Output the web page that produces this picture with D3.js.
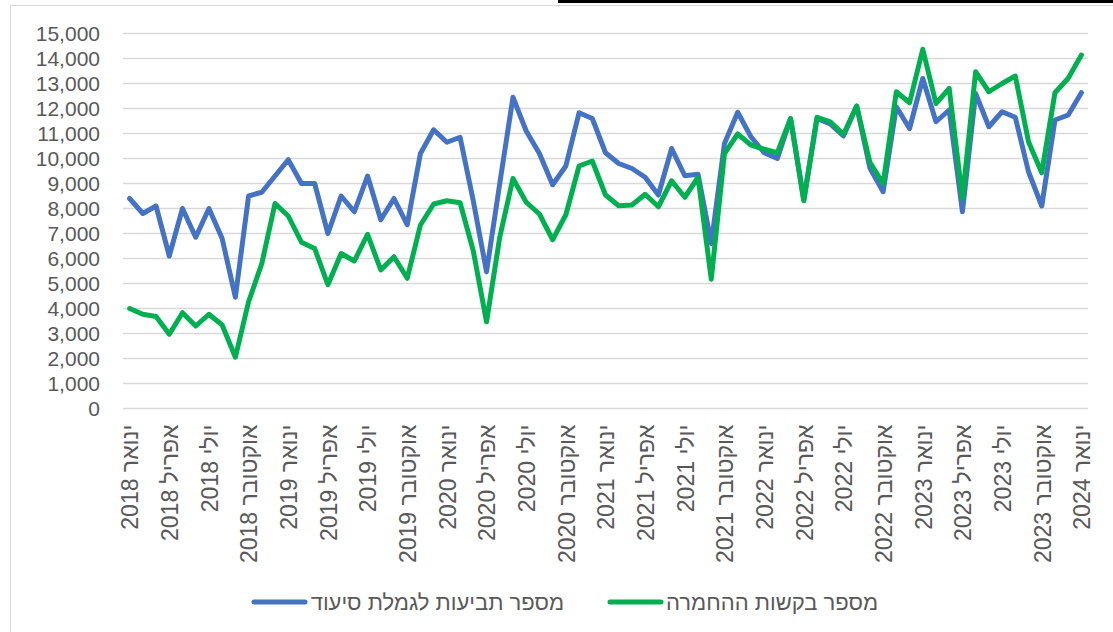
<!DOCTYPE html>
<html>
<head>
<meta charset="utf-8">
<script src="https://cdn.jsdelivr.net/npm/d3@7"></script>
<style>
body{margin:0;background:#fff;}
text{font-family:"Liberation Sans",Arial,sans-serif;}
</style>
</head>
<body>
<svg id="svg" width="1113" height="632"></svg>
<script>
var monthNames=["ינואר","פברואר","מרץ","אפריל","מאי","יוני","יולי","אוגוסט","ספטמבר","אוקטובר","נובמבר","דצמבר"];
var years=[2018,2019,2020,2021,2022,2023,2024];
var seriesNames=["מספר תביעות לגמלת סיעוד","מספר בקשות ההחמרה"];
var seriesColors=["#4472C4","#00B050"];

// monthly values, Jan 2018 .. Jan 2024
var claims=[8400,7800,8100,6100,8000,6850,8000,6800,4450,8500,8650,9300,
            9950,9000,9000,7000,8500,7870,9300,7550,8400,7350,10200,11150,
            10650,10850,8300,5470,9000,12450,11100,10200,8950,9700,11830,11600,
            10230,9800,9600,9250,8540,10400,9310,9370,6600,10600,11850,10870,
            10230,10000,11600,8350,11600,11380,10900,12100,9620,8670,12070,11200,
            13200,11470,11940,7870,12600,11270,11870,11650,9470,8100,11540,11740,
            12630];
var worsening=[4000,3770,3680,2970,3830,3300,3770,3340,2050,4270,5800,8200,
               7700,6650,6400,4950,6200,5900,6970,5540,6070,5210,7340,8180,
               8310,8230,6300,3470,6850,9200,8250,7780,6750,7750,9700,9900,
               8540,8110,8140,8570,8070,9110,8450,9250,5170,10200,10980,10540,
               10370,10230,11600,8310,11650,11470,10970,12100,9850,9000,12670,12230,
               14370,12200,12800,8400,13470,12670,13000,13300,10670,9430,12630,13210,
               14140];
var yTicks=d3.range(0,15001,1000);

var categories=[];
years.forEach(function(yr){
    monthNames.forEach(function(m){ categories.push(m+" "+yr); });
});
categories=categories.slice(0,claims.length);

var svg=d3.select("#svg");

// frame
svg.append("rect")
    .attr("x",10.5).attr("y",5.5)
    .attr("width",1120).attr("height",640)
    .attr("fill","none").attr("stroke","#d9d9d9").attr("stroke-width",1);
svg.append("rect")
    .attr("x",558).attr("y",0).attr("width",555).attr("height",3)
    .attr("fill","#000");

var x=d3.scalePoint().domain(categories).range([123,1088]).padding(0.5);
var y=d3.scaleLinear().domain([0,15000]).range([408.5,33.5]);

// gridlines
svg.append("g").selectAll("line")
    .data(yTicks).enter().append("line")
        .attr("x1",123).attr("x2",1088)
        .attr("y1",d=>y(d)).attr("y2",d=>y(d))
        .attr("stroke","#d9d9d9").attr("stroke-width",1.5);

// y axis
var yAxis=svg.append("g")
        .attr("transform","translate(100,0)")
    .call(d3.axisLeft(y).tickValues(yTicks).tickSize(0).tickPadding(0).tickFormat(d3.format(",")));
yAxis.select(".domain").remove();
yAxis.selectAll("text")
    .attr("fill","#595959")
    .style("font-size","21px");

// x axis
var xAxis=svg.append("g")
        .attr("transform","translate(0,"+y(0)+")")
    .call(d3.axisBottom(x).tickValues(categories.filter((d,i)=>i%3===0)).tickSize(0));
xAxis.select(".domain").remove();
xAxis.selectAll("text")
    .attr("transform","rotate(-90)")
    .attr("x",-16).attr("y",0).attr("dy","0.36em")
    .attr("text-anchor","end")
    .attr("fill","#595959")
    .style("font-size","23px");

// lines
var line=d3.line()
    .x((d,i)=>x(categories[i]))
    .y(d=>y(d));

[claims,worsening].forEach(function(s,k){
    svg.append("path")
        .datum(s)
        .attr("d",line)
        .attr("fill","none")
        .attr("stroke",seriesColors[k])
        .attr("stroke-width",5)
        .attr("stroke-linejoin","round")
        .attr("stroke-linecap","round");
});

// legend
var legendItems=[{x1:254,x2:305,tx:564},{x1:610,x2:661,tx:878}];
var legend=svg.append("g");
legendItems.forEach(function(l,k){
    legend.append("line")
        .attr("x1",l.x1).attr("x2",l.x2)
        .attr("y1",602).attr("y2",602)
        .attr("stroke",seriesColors[k]).attr("stroke-width",5)
        .attr("stroke-linecap","round");
    legend.append("text")
        .attr("x",l.tx).attr("y",602).attr("dy","0.35em")
        .attr("text-anchor","end")
        .attr("fill","#595959")
        .style("font-size","22px")
        .text(seriesNames[k]);
});
</script>
</body>
</html>
